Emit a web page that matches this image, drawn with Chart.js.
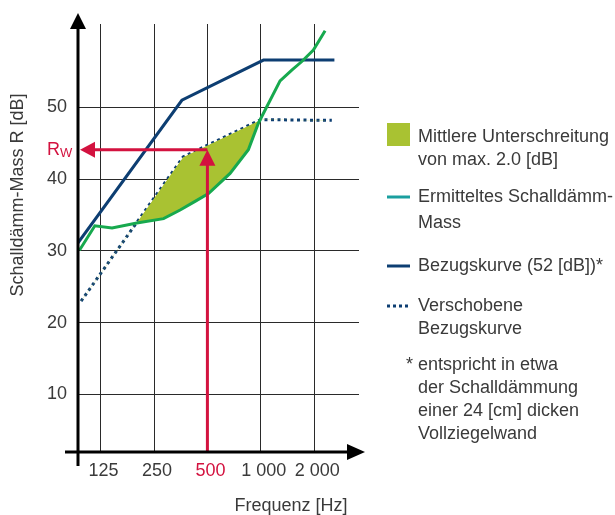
<!DOCTYPE html>
<html>
<head>
<meta charset="utf-8">
<script src="https://cdn.jsdelivr.net/npm/chart.js@4.4.1/dist/chart.umd.min.js"></script>
<style>
  body { margin: 0; background: #fff; }
  canvas { display: block; }
</style>
</head>
<body>
<canvas id="schallChart" width="615" height="515"></canvas>
<script>
// x axis: frequency in Hz (log), y axis: dB
const freqTicks = [125, 250, 500, 1000, 2000];
const freqLabels = ["125", "250", "500", "1 000", "2 000"];
const dbTicks = [10, 20, 30, 40, 50];

// Ermitteltes Schalldaemm-Mass (green)
const measuredFreq = [95, 116, 145, 200, 283, 351, 426, 507, 671, 851, 969, 1081, 1284, 1495, 1703, 1979, 2304];
const measuredDb = [30.1, 33.5, 33.2, 33.9, 34.5, 35.7, 36.9, 38.0, 40.8, 44.1, 47.8, 50.1, 53.7, 55.2, 56.4, 58.0, 60.7];

// Bezugskurve (52 dB)
const refFreq = [93, 359, 1035, 2600];
const refDb = [31.1, 51.0, 56.6, 56.6];

// Verschobene Bezugskurve
const shiftedFreq = [97, 365, 1000, 2514];
const shiftedDb = [23.0, 43.1, 48.3, 48.2];

// Rw read at 500 Hz
const rwFreq = 500;
const rwDb = 44.1;

const green = "#17a94e";
const teal = "#1a9f9f";
const navy = "#0d3e72";
const olive = "#a9c232";
const red = "#d3123f";
const textColor = "#3a3a3a";
const font = "'Liberation Sans', Arial, sans-serif";

const toPoints = (xs, ys) => xs.map((x, i) => ({ x: x, y: ys[i] }));

// axes with arrows, red Rw arrows, legend and titles
const decoPlugin = {
  id: "deco",
  afterDatasetsDraw(chart) {
    const ctx = chart.ctx;
    const xs = chart.scales.x;
    const ys = chart.scales.y;
    const area = chart.chartArea;
    const px = xs.getPixelForValue(rwFreq);
    const py = ys.getPixelForValue(rwDb);

    ctx.save();
    // red arrows
    ctx.strokeStyle = red;
    ctx.fillStyle = red;
    ctx.lineWidth = 3;
    ctx.beginPath();
    ctx.moveTo(px, area.bottom);
    ctx.lineTo(px, py + 14);
    ctx.moveTo(px, py);
    ctx.lineTo(area.left + 15, py);
    ctx.stroke();
    ctx.beginPath();
    ctx.moveTo(px, py);
    ctx.lineTo(px - 8, py + 16);
    ctx.lineTo(px + 8, py + 16);
    ctx.closePath();
    ctx.fill();
    ctx.beginPath();
    ctx.moveTo(area.left + 2, py);
    ctx.lineTo(area.left + 17, py - 8);
    ctx.lineTo(area.left + 17, py + 8);
    ctx.closePath();
    ctx.fill();

    // axes
    ctx.strokeStyle = "#000";
    ctx.fillStyle = "#000";
    ctx.lineWidth = 3;
    ctx.beginPath();
    ctx.moveTo(area.left, area.bottom + 14);
    ctx.lineTo(area.left, area.top + 4);
    ctx.moveTo(area.left - 13, area.bottom);
    ctx.lineTo(area.right - 12, area.bottom);
    ctx.stroke();
    ctx.beginPath();
    ctx.moveTo(area.left, area.top - 11);
    ctx.lineTo(area.left - 8, area.top + 5);
    ctx.lineTo(area.left + 8, area.top + 5);
    ctx.closePath();
    ctx.fill();
    ctx.beginPath();
    ctx.moveTo(area.right + 6, area.bottom);
    ctx.lineTo(area.right - 12, area.bottom - 8);
    ctx.lineTo(area.right - 12, area.bottom + 8);
    ctx.closePath();
    ctx.fill();

    // Rw label
    ctx.fillStyle = red;
    ctx.textBaseline = "middle";
    ctx.textAlign = "left";
    ctx.font = "18px " + font;
    ctx.fillText("R", 47, py);
    ctx.font = "13px " + font;
    ctx.fillText("W", 60, py + 4);

    // axis titles
    ctx.fillStyle = textColor;
    ctx.font = "18px " + font;
    ctx.textAlign = "center";
    ctx.fillText("Frequenz [Hz]", 291, 506);
    ctx.save();
    ctx.translate(18, 195);
    ctx.rotate(-Math.PI / 2);
    ctx.fillText("Schalldämm-Mass R [dB]", 0, 0);
    ctx.restore();

    // legend
    const lx = 387;
    const tx = 418;
    ctx.font = "18px " + font;
    ctx.textAlign = "left";
    ctx.fillStyle = olive;
    ctx.fillRect(lx, 123, 23, 23);
    ctx.fillStyle = textColor;
    ctx.fillText("Mittlere Unterschreitung", tx, 137);
    ctx.fillText("von max. 2.0 [dB]", tx, 160);

    ctx.lineWidth = 3;
    ctx.strokeStyle = teal;
    ctx.beginPath();
    ctx.moveTo(lx, 197);
    ctx.lineTo(lx + 23, 197);
    ctx.stroke();
    ctx.fillText("Ermitteltes Schalldämm-", tx, 197);
    ctx.fillText("Mass", tx, 223);

    ctx.strokeStyle = navy;
    ctx.beginPath();
    ctx.moveTo(lx, 266);
    ctx.lineTo(lx + 23, 266);
    ctx.stroke();
    ctx.fillText("Bezugskurve (52 [dB])*", tx, 266);

    ctx.lineWidth = 3;
    ctx.setLineDash([3, 3]);
    ctx.beginPath();
    ctx.moveTo(lx, 306);
    ctx.lineTo(lx + 24, 306);
    ctx.stroke();
    ctx.setLineDash([]);
    ctx.fillText("Verschobene", tx, 306);
    ctx.fillText("Bezugskurve", tx, 329);

    ctx.fillText("* entspricht in etwa", 406, 365);
    ctx.fillText("der Schalldämmung", tx, 388);
    ctx.fillText("einer 24 [cm] dicken", tx, 411);
    ctx.fillText("Vollziegelwand", tx, 434);
    ctx.restore();
  },
};

const ctx = document.getElementById("schallChart");
const myChart = new Chart(ctx, {
  type: "line",
  data: {
    datasets: [
      {
        label: "Ermitteltes Schalldämm-Mass",
        data: toPoints(measuredFreq, measuredDb),
        borderColor: green,
        borderWidth: 3,
        pointRadius: 0,
        fill: { target: 2, above: "rgba(0,0,0,0)", below: olive },
      },
      {
        label: "Bezugskurve (52 [dB])*",
        data: toPoints(refFreq, refDb),
        borderColor: navy,
        borderWidth: 3,
        pointRadius: 0,
        fill: false,
      },
      {
        label: "Verschobene Bezugskurve",
        data: toPoints(shiftedFreq, shiftedDb),
        borderColor: navy,
        borderWidth: 3,
        borderDash: [3, 3.5],
        pointRadius: 0,
        fill: false,
      },
    ],
  },
  options: {
    responsive: false,
    animation: false,
    layout: {
      padding: { top: 24, right: 256, left: 0, bottom: 0 },
    },
    plugins: {
      legend: { display: false },
      tooltip: { enabled: false },
    },
    scales: {
      x: {
        type: "logarithmic",
        min: 93.2,
        max: 3578,
        border: { display: false },
        grid: { color: "#2a2a2a", lineWidth: 1, drawTicks: false },
        afterBuildTicks: (scale) => {
          scale.ticks = freqTicks.map((v) => ({ value: v }));
        },
        afterFit: (scale) => {
          scale.height = 63;
        },
        ticks: {
          padding: 8,
          labelOffset: 3,
          autoSkip: false,
          maxRotation: 0,
          font: { family: font, size: 18 },
          color: (c) => (c.tick && c.tick.value === rwFreq ? red : textColor),
          callback: (value) => freqLabels[freqTicks.indexOf(value)],
        },
      },
      y: {
        min: 1.97,
        max: 61.63,
        border: { display: false },
        grid: { color: "#2a2a2a", lineWidth: 1, drawTicks: false },
        afterBuildTicks: (scale) => {
          scale.ticks = dbTicks.map((v) => ({ value: v }));
        },
        afterFit: (scale) => {
          scale.width = 78;
        },
        ticks: {
          padding: 11,
          font: { family: font, size: 18 },
          color: textColor,
        },
      },
    },
  },
  plugins: [decoPlugin],
});
</script>
</body>
</html>
